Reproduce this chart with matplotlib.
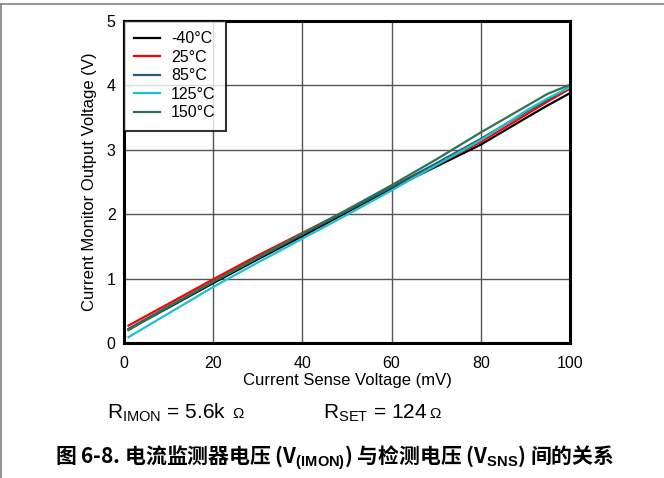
import numpy as np
import matplotlib
matplotlib.use("Agg")
import matplotlib.pyplot as plt
from matplotlib.lines import Line2D

plt.rcParams['font.family'] = ['Liberation Sans', 'DejaVu Sans']
plt.rcParams['mathtext.fontset'] = 'custom'
plt.rcParams['mathtext.rm'] = 'Liberation Sans'
plt.rcParams['mathtext.bf'] = 'Liberation Sans:bold'

# donnees
sense_mv = [1, 10, 20, 30, 40, 50, 60, 70, 80, 90, 95, 100]
v_m40 = [0.21, 0.55, 0.93, 1.30, 1.66, 2.03, 2.40, 2.74, 3.08, 3.49, 3.69, 3.88]
v_25 = [0.27, 0.61, 0.99, 1.36, 1.71, 2.06, 2.42, 2.77, 3.12, 3.54, 3.75, 3.95]
v_85 = [0.22, 0.57, 0.95, 1.32, 1.69, 2.05, 2.42, 2.79, 3.17, 3.58, 3.78, 3.98]
v_125 = [0.09, 0.46, 0.87, 1.25, 1.62, 1.99, 2.37, 2.76, 3.15, 3.60, 3.80, 3.97]
v_150 = [0.20, 0.56, 0.95, 1.33, 1.70, 2.07, 2.45, 2.85, 3.27, 3.67, 3.87, 4.01]

labels = ['-40°C', '25°C', '85°C', '125°C', '150°C']
colors = ['#000000', '#ff0000', '#215d74', '#1ec0d4', '#2f7352']
series = [v_m40, v_25, v_85, v_125, v_150]

xticks = [0, 20, 40, 60, 80, 100]
yticks = [0, 1, 2, 3, 4, 5]

fig = plt.figure(figsize=(6.64, 4.78), dpi=100)
ax = fig.add_axes([124/664, 1 - 343/478, 446/664, 322/478])

for ys, c, lab in zip(series, colors, labels):
    ax.plot(sense_mv, ys, color=c, lw=1.6, label=lab)

ax.set_xlim(0, 100)
ax.set_ylim(0, 5)
ax.set_xticks(xticks)
ax.set_yticks(yticks)
ax.tick_params(length=0, labelsize=11.5)
ax.tick_params(axis='x', pad=9)
ax.tick_params(axis='y', pad=6)
ax.grid(True, color='#555555', lw=1)
ax.set_axisbelow(True)
for s in ax.spines.values():
    s.set_linewidth(2.2)
    s.set_color('black')

ax.set_xlabel('Current Sense Voltage (mV)', fontsize=12, labelpad=1.5)
ax.set_ylabel('Current Monitor Output Voltage (V)', fontsize=12, labelpad=7)

leg = ax.legend(loc='upper left', fontsize=11.5, frameon=True, fancybox=False,
                borderaxespad=0, handlelength=1.6, labelspacing=0.22,
                borderpad=0.65, handletextpad=0.7)
leg.get_frame().set_edgecolor('black')
leg.get_frame().set_linewidth(1.5)

fig.text(107/664, 1 - 418/478, r'R$_{\mathrm{IMON}}$ = 5.6k', fontsize=15, va='baseline')
fig.text(232/664, 1 - 418/478, 'Ω', fontsize=11, va='baseline')
fig.text(323/664, 1 - 418/478, r'R$_{\mathrm{SET}}$ = 124', fontsize=15, va='baseline')
fig.text(429/664, 1 - 418/478, 'Ω', fontsize=11, va='baseline')

fig.text(335/664, 1 - 458/478,
         r'图 6-8. 电流监测器电压 (V$_{\mathbf{(IMON)}}$) 与检测电压 (V$_{\mathbf{SNS}}$) 间的关系',
         fontsize=15, fontweight='bold', family='Noto Sans CJK SC',
         ha='center', va='center')

# cadre de la page
fig.add_artist(Line2D([0, 1], [1 - 3.5/478, 1 - 3.5/478], color='#808080', lw=1.2))
fig.add_artist(Line2D([1.2/664, 1.2/664], [0, 1 - 3.5/478], color='#808080', lw=1.2))

fig.savefig('out.png', dpi=100)
